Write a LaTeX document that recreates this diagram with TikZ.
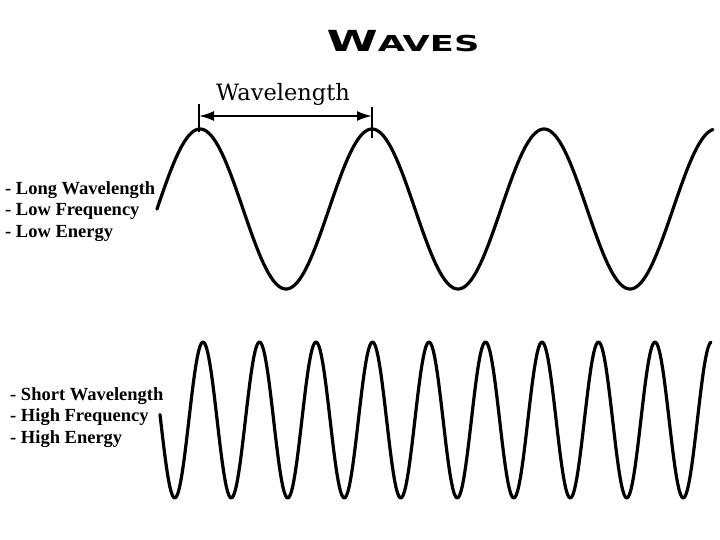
\documentclass[tikz,border=0pt]{standalone}
\usepackage{fontspec}
\newfontfamily\titlefont[FakeStretch=1.6]{DejaVu Sans Bold}
\newfontfamily\labelfont{DejaVu Serif}
\newfontfamily\notefont{Liberation Serif}
\usetikzlibrary{arrows.meta,positioning}

\begin{document}
\begin{tikzpicture}[x=1pt,y=-1pt]
\tikzstyle{wave} = [line width=3.2pt, line cap=round, line join=round]
\tikzstyle{marker} = [line width=2pt]
\tikzstyle{arrow} = [line width=2pt, {Latex[length=15pt,width=10pt]}-{Latex[length=15pt,width=10pt]}]
\tikzstyle{notes} = [align=left, anchor=north west, inner sep=0pt, font=\notefont\bfseries\fontsize{18.5}{21.5}\selectfont]

\useasboundingbox (0,0) rectangle (720,540);

\node (title) [anchor=base, inner sep=0pt] at (403,52) {\titlefont\fontsize{29}{29}\selectfont W\fontsize{22}{22}\selectfont AVES};
\node (wavelen) [anchor=base, inner sep=0pt] at (283,101) {\labelfont\fontsize{22.5}{22.5}\selectfont Wavelength};

% long wave
\draw [wave] plot[domain=157:713, samples=300] (\x, {209 - 80*sin((360/172)*(\x-157))});
% short wave
\draw [wave] plot[domain=160:711, samples=400] (\x, {420 - 78*cos((360/56.5)*(\x-203))});

\coordinate (tickAtop) at (199,104);
\coordinate (tickAbot) at (199,132);
\coordinate (tickBtop) at (372,107);
\coordinate (tickBbot) at (372,138);
\coordinate (crestA) at (199,116);
\coordinate (crestB) at (372,116);

\draw [marker] (tickAtop) -- (tickAbot);
\draw [marker] (tickBtop) -- (tickBbot);
\draw [arrow] (crestA) -- (crestB);

\node (longnotes) [notes] at (5,181) {- Long Wavelength\\- Low Frequency\\- Low Energy};
\node (shortnotes) [notes] at (10,387) {- Short Wavelength\\- High Frequency\\- High Energy};

\end{tikzpicture}
\end{document}
